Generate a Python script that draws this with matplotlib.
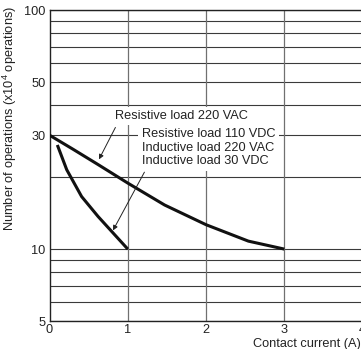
import matplotlib
matplotlib.use("Agg")
import matplotlib.pyplot as plt
from matplotlib.ticker import NullFormatter

plt.rcParams['font.family'] = ['Liberation Sans', 'DejaVu Sans']
plt.rcParams['mathtext.fontset'] = 'custom'
plt.rcParams['mathtext.rm'] = 'Liberation Sans'
plt.rcParams['mathtext.it'] = 'Liberation Sans'

# Data
res_x = [0, 0.3, 0.62, 1.0, 1.47, 2.0, 2.54, 3.0]
res_y = [30, 26.2, 22.6, 18.9, 15.3, 12.65, 10.8, 10]
ind_x = [0.1, 0.22, 0.41, 0.62, 0.8, 1.0]
ind_y = [27.3, 21.5, 16.6, 13.7, 11.8, 10]

x_ticks = [0, 1, 2, 3, 4]
y_major = [5, 10, 30, 50, 100]
y_minor = [6, 7, 8, 9, 20, 40, 60, 70, 80, 90]

label_res = "Resistive load 220 VAC"
label_block = ["Resistive load 110 VDC", "Inductive load 220 VAC", "Inductive load 30 VDC"]

FS = 9.2
W, H = 361, 349
fig = plt.figure(figsize=(W / 100, H / 100), dpi=100)
ax = fig.add_axes([49.5 / W, 1 - 321 / H, (362.7 - 49.5) / W, (321 - 10.3) / H])
ax.set_yscale('log')
ax.set_xlim(0, 4)
ax.set_ylim(5, 100)

ax.set_xticks(x_ticks)
ax.set_xticklabels([str(v) for v in x_ticks])
ax.set_yticks(y_major)
ax.set_yticklabels([str(v) for v in y_major])
ax.set_yticks(y_minor, minor=True)
ax.yaxis.set_minor_formatter(NullFormatter())
ax.tick_params(axis='both', which='both', length=0, labelsize=FS, colors='#222')
ax.tick_params(axis='y', pad=3)
ax.tick_params(axis='x', pad=2)

for v in y_major + y_minor:
    ax.axhline(v, color='#3a3a3a', lw=0.8, zorder=1)
for v in x_ticks[1:4]:
    ax.axvline(v, color='#707070', lw=0.9, zorder=1)

for s in ['left', 'bottom', 'top']:
    ax.spines[s].set_color('#222')
    ax.spines[s].set_linewidth(1.0)
ax.spines['right'].set_visible(False)

ax.plot(res_x, res_y, color='#111', lw=2.2, zorder=4, solid_capstyle='butt', solid_joinstyle='round')
ax.plot(ind_x, ind_y, color='#111', lw=2.2, zorder=4, solid_capstyle='butt', solid_joinstyle='round')

ax.text(0.838, 36.1, label_res, fontsize=FS, ha='left', va='center', color='#222', zorder=3,
        bbox=dict(facecolor='white', edgecolor='none', pad=2.5))
ax.text(1.178, 26.6, "\n".join(label_block), fontsize=FS, ha='left', va='center', color='#222',
        zorder=3, linespacing=1.18,
        bbox=dict(facecolor='white', edgecolor='none', pad=3))

ax.annotate("", xy=(0.616, 23.2), xytext=(0.858, 33.1),
            arrowprops=dict(arrowstyle='-|>', color='#222', lw=0.7, mutation_scale=7), zorder=5)
ax.annotate("", xy=(0.794, 11.7), xytext=(1.229, 21.5),
            arrowprops=dict(arrowstyle='-|>', color='#222', lw=0.7, mutation_scale=7), zorder=5)

fig.text(10 / W, 1 - 118 / H, "Number of operations (x10$^{4}$ operations)", rotation=90,
         fontsize=FS, ha='center', va='center', color='#222')
fig.text(1.0, 1 - 344 / H, "Contact current (A)", fontsize=FS, ha='right', va='center', color='#222')

fig.savefig("out.png", dpi=100)
